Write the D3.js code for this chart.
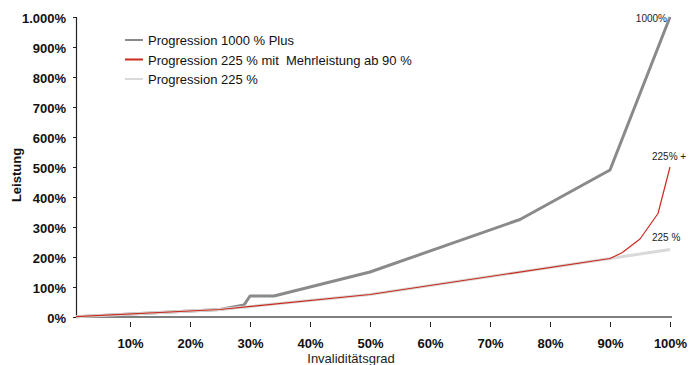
<!DOCTYPE html>
<html><head><meta charset="utf-8">
<script src="https://cdn.jsdelivr.net/npm/d3@7"></script>
<style>
body{margin:0;background:#fff;}
text{font-family:"Liberation Sans",Arial,Helvetica,sans-serif;}
</style></head>
<body><svg id="c" width="689" height="365"></svg>
<script>
// Invaliditätsgrad (%) and Leistung (%)
const seriesNames = ["Progression 1000 % Plus", "Progression 225 % mit  Mehrleistung ab 90 %", "Progression 225 %"];
const plusX   = [1, 25, 29, 30, 34, 50, 75, 90, 100];
const plusY   = [1, 25, 40, 70, 70, 150, 325, 490, 1000];
const mehrX   = [1, 25, 50, 90, 92, 95, 98, 100];
const mehrY   = [1, 25, 75, 195, 214, 260, 345, 500];
const baseX   = [1, 25, 50, 90, 100];
const baseY   = [1, 25, 75, 195, 225];
const xTicks  = [10, 20, 30, 40, 50, 60, 70, 80, 90, 100];
const xTickLabels = ["10%","20%","30%","40%","50%","60%","70%","80%","90%","100%"];
const yTicks  = [0, 100, 200, 300, 400, 500, 600, 700, 800, 900, 1000];
const yTickLabels = ["0%","100%","200%","300%","400%","500%","600%","700%","800%","900%","1.000%"];
const endLabels = ["1000%", "225% +", "225 %"];
const colors = ["#8a8a8a", "#cc2a1c", "#d9d9d9"];

const svg = d3.select("#c");
const x = d3.scaleLinear().domain([1, 100]).range([76, 670]);
const y = d3.scaleLinear().domain([0, 1000]).range([317, 17]);

// y axis
const yAxis = d3.axisLeft(y).tickValues(yTicks).tickSize(3).tickPadding(7)
  .tickFormat((d,i)=>yTickLabels[i]);
const gy = svg.append("g").attr("transform","translate(76,0)").call(yAxis);
gy.select(".domain").attr("stroke","#222").attr("stroke-width",1.2);
gy.selectAll(".tick line").attr("stroke","#222");
gy.selectAll(".tick text").attr("font-size","13px").attr("font-weight","bold")
  .attr("fill","#111").attr("dy","0.42em").attr("font-family","Liberation Sans, Arial, sans-serif");

// x axis
const xAxis = d3.axisBottom(x).tickValues(xTicks).tickSize(0).tickPadding(0)
  .tickFormat((d,i)=>xTickLabels[i]);
const gx = svg.append("g").attr("transform","translate(0,317)").call(xAxis);
gx.select(".domain").remove();
gx.selectAll(".tick text").attr("font-size","13px").attr("font-weight","bold")
  .attr("fill","#111").attr("y",30.5).attr("dy",0).attr("font-family","Liberation Sans, Arial, sans-serif");
gx.selectAll(".tick").append("line").attr("y1",5).attr("y2",10).attr("stroke","#222").attr("stroke-width",1);
svg.append("line").attr("x1",x(1)).attr("x2",x(100)+2).attr("y1",y(0)).attr("y2",y(0))
  .attr("stroke","#555").attr("stroke-width",1.6);

// titles
svg.append("text").attr("transform","translate(21,175) rotate(-90)").attr("text-anchor","middle")
  .attr("font-size","13px").attr("font-weight","bold").attr("fill","#111").text("Leistung");
svg.append("text").attr("x",351).attr("y",362.5).attr("text-anchor","middle")
  .attr("font-size","13px").attr("fill","#222").text("Invaliditätsgrad");

// lines
const line = d3.line().x(d=>x(d[0])).y(d=>y(d[1]));
const series = [
  {xs: plusX, ys: plusY, c: colors[0], w: 3},
  {xs: baseX, ys: baseY, c: colors[2], w: 3},
  {xs: mehrX, ys: mehrY, c: colors[1], w: 1.2}
];
series.forEach(s=>{
  svg.append("path").datum(s.xs.map((v,i)=>[v, s.ys[i]]))
    .attr("d", line).attr("fill","none").attr("stroke", s.c).attr("stroke-width", s.w)
    .attr("stroke-linejoin","round");
});

// end labels
svg.append("text").attr("x",667).attr("y",22).attr("text-anchor","end").attr("font-size","10px").attr("fill","#222").text(endLabels[0]);
svg.append("text").attr("x",652).attr("y",160).attr("font-size","10px").attr("fill","#222").text(endLabels[1]);
svg.append("text").attr("x",652).attr("y",241).attr("font-size","10px").attr("fill","#222").text(endLabels[2]);

// legend
const lg = svg.append("g");
[0,1,2].forEach(i=>{
  const yy = 40 + i*19.5;
  lg.append("line").attr("x1",125).attr("x2",143).attr("y1",yy).attr("y2",yy)
    .attr("stroke",colors[i]).attr("stroke-width",2);
  lg.append("text").attr("x",148).attr("y",yy+5).attr("font-size","13px").attr("fill","#111")
    .style("white-space","pre").text(seriesNames[i]);
});
</script></body></html>
